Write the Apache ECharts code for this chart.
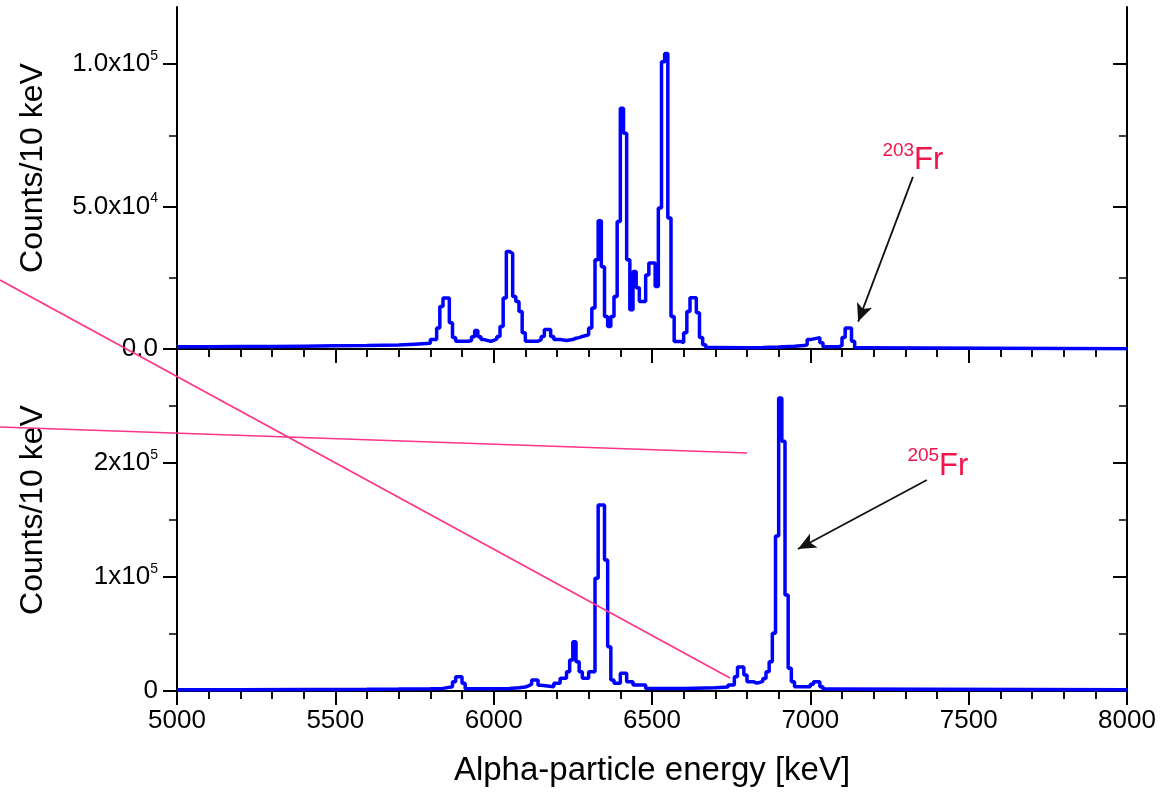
<!DOCTYPE html>
<html>
<head>
<meta charset="utf-8">
<script src="https://cdn.jsdelivr.net/npm/echarts@6/dist/echarts.min.js"></script>
<style>
  html, body { margin: 0; padding: 0; background: #ffffff; }
  #chart { width: 1175px; height: 795px; }
</style>
</head>
<body>
<div id="chart"></div>
<script>
// ---- Data (bin start energy in keV, counts per 10 keV) ----
const topEnergy = [5000,5100,5200,5300,5400,5500,5600,5700,5750,5800,5810,5820,5830,5840,5850,5860,5870,5880,5920,5930,5940,5950,5960,5970,5990,6000,6010,6020,6030,6040,6050,6060,6070,6080,6090,6100,6140,6150,6160,6170,6180,6190,6210,6230,6250,6260,6270,6280,6300,6310,6320,6330,6340,6350,6360,6370,6380,6390,6400,6410,6420,6430,6440,6450,6460,6470,6480,6490,6500,6510,6520,6530,6540,6550,6560,6570,6590,6600,6610,6620,6630,6640,6650,6660,6670,6700,6800,6850,6900,6950,6980,6990,7000,7030,7040,7090,7100,7110,7120,7130,7140,7150,8000];
const topCounts = [800,850,900,1000,1100,1200,1400,1700,2000,3300,3300,7400,14900,17900,17900,9200,4000,2700,3000,4300,6500,4300,3300,2700,3000,3500,4400,7900,17900,34200,33500,18400,16700,13200,5700,2700,3300,4400,6800,6800,4400,3300,3000,3300,3800,4000,4400,5000,7400,14400,31300,45000,28900,11400,7900,11400,18400,44700,84500,75700,31300,13800,27200,21500,16700,16700,26000,30200,30200,21900,49500,100800,103700,46000,11400,2650,2200,5700,13200,18000,18000,12700,4000,1500,500,400,500,700,1000,1200,1500,3300,4000,2200,800,1200,4000,7400,7400,2700,400,100,100];

const bottomEnergy = [5000,5200,5400,5500,5600,5700,5800,5840,5870,5880,5890,5900,5910,6000,6050,6080,6100,6110,6120,6130,6140,6150,6190,6210,6230,6240,6250,6260,6270,6280,6300,6320,6330,6340,6350,6360,6370,6380,6400,6410,6420,6440,6480,6600,6700,6740,6760,6770,6780,6790,6800,6820,6830,6840,6850,6860,6870,6880,6890,6900,6910,6920,6930,6940,6950,7000,7010,7030,7040,7060,8000];
const bottomCounts = [1200,1300,1400,1500,1700,2000,2300,3800,8200,12500,12500,6700,2000,2200,2800,3500,4500,6000,9600,9600,5000,3800,6700,11100,16900,27200,43200,25700,16900,11100,16900,98900,163200,163200,114900,38900,9600,6700,15500,15500,8200,5300,2300,2800,3500,5300,12500,21000,21000,14000,8200,7000,7500,8500,11000,16900,25700,50600,136000,257000,219000,84200,19900,8200,3800,6000,8200,3800,1800,1200,900];

// Axis tick labels: value, mantissa text, exponent text
const topYTickValues = [0, 50000, 100000];
const topYTickText = ['0.0', '5.0x10', '1.0x10'];
const topYTickExp = ['', '4', '5'];
const bottomYTickValues = [0, 100000, 200000];
const bottomYTickText = ['0', '1x10', '2x10'];
const bottomYTickExp = ['', '5', '5'];

// Annotations (data coordinates)
const topNote = { iso: '203', el: 'Fr', text: [7226, 66000], from: [7324, 60400], to: [7151, 9600] };
const bottomNote = { iso: '205', el: 'Fr', text: [7305, 197400], from: [7368, 185100], to: [6961, 124600] };

const FONT = "'Liberation Sans', Arial, Helvetica, sans-serif";
const RED = '#f0154a';

function zip(a, b) { return a.map((v, i) => [v, b[i]]); }

function yLabelFormatter(vals, texts, exps) {
  return function (v) {
    const i = vals.indexOf(v);
    if (i < 0) return '';
    return '{n|' + texts[i] + '}' + (exps[i] ? '{s|' + exps[i] + '}' : '');
  };
}

const yRich = {
  n: { fontSize: 26, fontFamily: FONT, color: '#000', lineHeight: 30 },
  s: { fontSize: 14, fontFamily: FONT, color: '#000', lineHeight: 15, verticalAlign: 'top' }
};

const axisLineStyle = { show: true, lineStyle: { color: '#000', width: 2 } };

function xAxisDef(gridIndex, position, inside, showLabel, extra) {
  return Object.assign({
    type: 'value', gridIndex: gridIndex, position: position,
    min: 5000, max: 8000, interval: 500,
    axisLine: axisLineStyle,
    axisTick: { show: true, inside: inside, length: 14, lineStyle: { color: '#000', width: 2 } },
    minorTick: { show: true, splitNumber: 5, length: 8, lineStyle: { color: '#000', width: 1.5 } },
    splitLine: { show: false }, minorSplitLine: { show: false },
    axisLabel: { show: showLabel, fontSize: 26, fontFamily: FONT, color: '#000', margin: 17,
      formatter: function (v) { return String(v); } }
  }, extra || {});
}

function yAxisDef(gridIndex, position, inside, max, interval, tickVals, labelFmt) {
  return {
    type: 'value', gridIndex: gridIndex, position: position,
    min: 0, max: max, interval: interval,
    axisLine: axisLineStyle,
    axisTick: { show: true, inside: inside, length: 14, customValues: tickVals, lineStyle: { color: '#000', width: 2 } },
    minorTick: { show: true, splitNumber: 2, length: 8, lineStyle: { color: '#000', width: 1.5 } },
    splitLine: { show: false }, minorSplitLine: { show: false },
    axisLabel: labelFmt ? { show: true, customValues: tickVals, formatter: labelFmt, margin: 19, rich: yRich } : { show: false }
  };
}

function noteMarks(note) {
  return {
    markLine: {
      silent: true, animation: false,
      symbol: ['none', 'arrow'], symbolSize: [12, 18],
      lineStyle: { color: '#111', width: 1.8, type: 'solid' },
      label: { show: false },
      data: [[{ coord: note.from }, { coord: note.to }]]
    },
    markPoint: {
      silent: true, animation: false,
      symbol: 'circle', symbolSize: 1, itemStyle: { color: 'rgba(0,0,0,0)' },
      label: {
        show: true, position: 'right', distance: 0,
        formatter: '{s|' + note.iso + '}{f|' + note.el + '}',
        rich: {
          s: { fontSize: 19, fontFamily: FONT, color: RED, lineHeight: 16, verticalAlign: 'top' },
          f: { fontSize: 31, fontFamily: FONT, color: RED, lineHeight: 40 }
        }
      },
      data: [{ coord: note.text }]
    }
  };
}

const chart = echarts.init(document.getElementById('chart'), null, { renderer: 'canvas' });

const option = {
  animation: false,
  backgroundColor: '#ffffff',
  grid: [
    { left: 177, top: 7, width: 950, height: 342 },
    { left: 177, top: 349, width: 950, height: 342 }
  ],
  xAxis: [
    xAxisDef(0, 'bottom', false, false),
    xAxisDef(0, 'top', true, false),
    xAxisDef(1, 'bottom', false, true, {
      name: 'Alpha-particle energy [keV]', nameLocation: 'middle', nameGap: 63,
      nameTextStyle: { fontSize: 33, fontFamily: FONT, color: '#000' }
    }),
    xAxisDef(1, 'top', true, false)
  ],
  yAxis: [
    yAxisDef(0, 'left', false, 120000, 50000, topYTickValues, yLabelFormatter(topYTickValues, topYTickText, topYTickExp)),
    yAxisDef(0, 'right', true, 120000, 50000, topYTickValues, null),
    yAxisDef(1, 'left', false, 300000, 100000, bottomYTickValues, yLabelFormatter(bottomYTickValues, bottomYTickText, bottomYTickExp)),
    yAxisDef(1, 'right', true, 300000, 100000, bottomYTickValues, null)
  ],
  series: [
    Object.assign({
      type: 'line', name: 'top', xAxisIndex: 0, yAxisIndex: 0,
      step: 'end', symbol: 'none', data: zip(topEnergy, topCounts),
      lineStyle: { color: '#0000ff', width: 3.5 }
    }, noteMarks(topNote)),
    Object.assign({
      type: 'line', name: 'bottom', xAxisIndex: 2, yAxisIndex: 2,
      step: 'end', symbol: 'none', data: zip(bottomEnergy, bottomCounts),
      lineStyle: { color: '#0000ff', width: 3.5 }
    }, noteMarks(bottomNote))
  ],
  graphic: [
    { type: 'text', x: 33, y: 168, rotation: Math.PI / 2, z: 10,
      style: { text: 'Counts/10 keV', font: '32px ' + FONT, fill: '#000', align: 'center', verticalAlign: 'middle' } },
    { type: 'text', x: 33, y: 510, rotation: Math.PI / 2, z: 10,
      style: { text: 'Counts/10 keV', font: '32px ' + FONT, fill: '#000', align: 'center', verticalAlign: 'middle' } },
    { type: 'line', z: 100, shape: { x1: 0, y1: 280, x2: 730, y2: 678 }, style: { stroke: '#ff3388', lineWidth: 1.6 } },
    { type: 'line', z: 100, shape: { x1: 0, y1: 427, x2: 747, y2: 453 }, style: { stroke: '#ff3388', lineWidth: 1.6 } }
  ]
};

chart.setOption(option);
</script>
</body>
</html>
